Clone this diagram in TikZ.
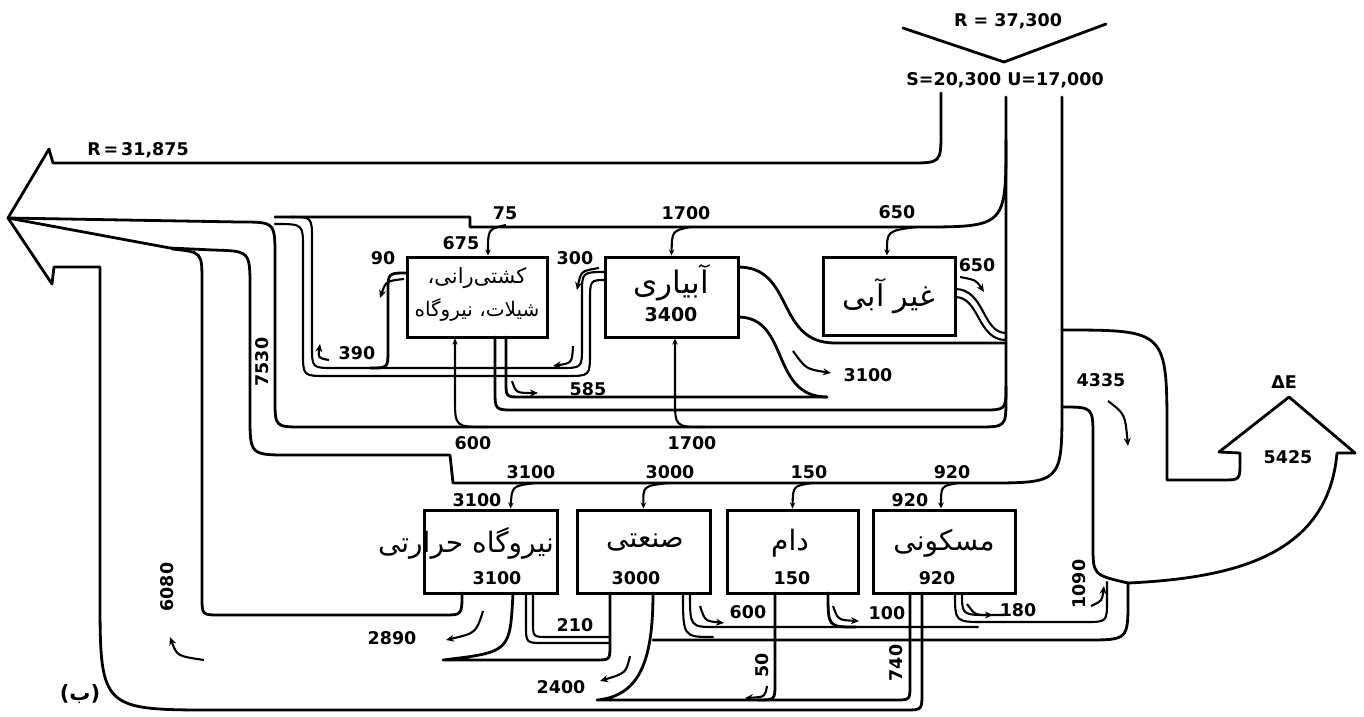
\documentclass[tikz,border=0pt]{standalone}
\usepackage{fontspec}
\setmainfont{DejaVu Sans}
\newfontfamily\farsi[Script=Arabic]{DejaVu Sans}
\TeXXeTstate=1
\usetikzlibrary{arrows.meta}

\tikzset{
  flow/.style={line width=2.8pt, line join=round, line cap=round},
  twin/.style={line width=2.1pt, line cap=round},
  hookarrow/.style={line width=2.1pt, -{Stealth[length=8pt,width=7pt]}},
  feed/.style={line width=2.1pt, -{Stealth[length=6pt,width=5.5pt]}},
  unit/.style={draw, line width=3pt, inner sep=0pt},
  num/.style={font=\bfseries\fontsize{17.5}{19}\selectfont, inner sep=1pt},
  fa/.style={font=\farsi\fontsize{28}{30}\selectfont, inner sep=0pt}
}

\begin{document}
\begin{tikzpicture}[x=1pt,y=-1pt]
  \useasboundingbox (0,0) rectangle (1364,716);

  % Inflow R split into S and U
  \draw[flow] (903,28) -- (1004,62) -- (1106,24);
  \node[num] (rin) at (1008,21) {R = 37,300};
  \node[num] (su) at (1005,80) {S=20,300 U=17,000};
  \node[num] (rout) at (138,150) {R\,=\,31,875};

  % Top boxes
  \node[unit, minimum width=140pt, minimum height=80pt] (nav) at (477,297) {};
  \node[unit, minimum width=133pt, minimum height=80pt] (irr) at (671.5,297) {};
  \node[unit, minimum width=132pt, minimum height=78pt] (nonag) at (889,296) {};
  \node[fa, font=\farsi\fontsize{21}{23}\selectfont] (navA) at (477,278) {\beginR کشتی‌رانی،\endR};
  \node[fa, font=\farsi\fontsize{20}{22}\selectfont] (navB) at (477,310) {\beginR شیلات، نیروگاه\endR};
  \node[fa, font=\farsi\fontsize{31}{33}\selectfont] (irrA) at (671,283) {\beginR آبیاری\endR};
  \node[num, font=\bfseries\fontsize{19}{21}\selectfont] (irrB) at (671,315) {3400};
  \node[fa, font=\farsi\fontsize{30}{32}\selectfont] (nonagA) at (889,296) {\beginR غیر آبی\endR};

  % Bottom boxes
  \foreach \n/\x/\w in {therm/490.5/133, ind/643.5/133, live/792.5/131, res/944/142}
    \node[unit, minimum width=\w pt, minimum height=83pt] (\n) at (\x,551.5) {};
  \node[fa] (thermA) at (466,543) {\beginR نیروگاه حرارتی\endR};
  \node[fa] (indA) at (645,543) {\beginR صنعتی\endR};
  \node[fa] (liveA) at (790,543) {\beginR دام\endR};
  \node[fa] (resA) at (944,543) {\beginR مسکونی\endR};
  \foreach \n/\t/\x in {thermB/3100/497, indB/3000/636, liveB/150/792, resB/920/937}
    \node[num] (\n) at (\x,578) {\t};

  % S stream and big arrow R, outer edge of 6080
  \draw[flow] (941,93) -- (941,131) .. controls (941,163) .. (909,163) -- (53,163) -- (49,149)
    -- (8,218) -- (52,284) -- (54,267) -- (100,267) -- (100,592) .. controls (100,710) .. (218,710)
    -- (905,710) .. controls (922,710) .. (922,693) -- (922,593);
  % U left edge, inner edge of 7530
  \draw[flow] (1006,97) -- (1006,398) .. controls (1006,427) .. (977,427) -- (303,427)
    .. controls (275,427) .. (275,399) -- (275,257) .. controls (275,222) .. (240,222) -- (8,218);
  % U right edge, outer edge of 7530
  \draw[flow] (1062,97) -- (1062,405) .. controls (1062,483) .. (985,483) -- (453,483) -- (450,455)
    -- (290,455) .. controls (250,455) .. (250,415) -- (250,288) .. controls (250,251) .. (213,250)
    -- (170,248) -- (8,218);
  % inner edge of 6080
  \draw[flow] (172,249) .. controls (202,252) .. (202,282) -- (202,597) .. controls (202,615) .. (220,615)
    -- (444,615) .. controls (462,615) .. (462,593);
  % lower edge of S
  \draw[flow] (1006,140) .. controls (1006,227) .. (918,227) -- (470,227) -- (470,217) -- (275,217);

  % Returns 90 and 300
  \draw[twin] (275,224) .. controls (303,224) .. (303,248) -- (303,352) .. controls (303,376) .. (327,376)
    -- (566,376) .. controls (590,376) .. (590,352) -- (590,302) .. controls (590,280) .. (606,280);
  \draw[twin] (290,217) .. controls (312,217) .. (312,240) -- (312,346) .. controls (312,368) .. (334,368)
    -- (560,368) .. controls (582,368) .. (582,346) -- (582,294) .. controls (582,272) .. (606,272);
  \draw[flow] (407,273) .. controls (388,273) .. (388,292) -- (388,350) .. controls (388,368) .. (370,368);

  % Return 585, 3100 and 650 towards 4335
  \draw[flow] (495,337) -- (495,390) .. controls (495,410) .. (515,410) -- (982,410) .. controls (1006,410) .. (1006,386);
  \draw[flow] (506,337) -- (506,382) .. controls (506,397) .. (521,397) -- (827,397);
  \draw[flow] (738,267) .. controls (795,267) and (775,343) .. (835,343) -- (1006,343);
  \draw[flow] (738,317) .. controls (790,317) and (770,397) .. (827,397);
  \draw[twin] (955,289) .. controls (985,289) and (982,333) .. (1006,333);
  \draw[twin] (955,297) .. controls (980,297) and (977,340) .. (1006,340);

  % 4335 and Delta E
  \draw[flow] (1062,330) .. controls (1167,330) .. (1167,435) -- (1167,480) -- (1222,480)
    .. controls (1240,480) .. (1240,462) -- (1240,453) -- (1219,452) -- (1289,397) -- (1355,453)
    -- (1337,453) .. controls (1328,555) and (1235,578) .. (1128,583);
  \draw[flow] (1062,407) .. controls (1093,407) .. (1093,438) -- (1093,545) .. controls (1093,575) .. (1128,583);
  \node[num] (de) at (1284,382) {ΔE};

  % Outflows of the bottom boxes
  \draw[flow] (513,593) .. controls (510,652) .. (443,660) -- (595,660) .. controls (610,660) .. (610,645) -- (610,593);
  \draw[twin] (526,593) -- (526,625) .. controls (526,643) .. (544,643) -- (610,643);
  \draw[twin] (533,593) -- (533,622) .. controls (533,637) .. (548,637) -- (610,637);
  \draw[flow] (653,593) .. controls (653,660) and (640,696) .. (597,700) -- (895,700)
    .. controls (910,700) .. (910,685) -- (910,593);
  \draw[flow] (775,593) -- (775,683) .. controls (775,700) .. (758,700);
  \draw[flow] (653,640) -- (1085,640) .. controls (1128,640) .. (1128,600) -- (1128,583);
  \draw[twin] (683,593) .. controls (683,637) .. (713,637);
  \draw[twin] (690,593) .. controls (690,627) .. (716,627) -- (978,627);
  \draw[flow] (828,593) .. controls (828,627) .. (856,627);
  \draw[twin] (955,593) .. controls (955,622) .. (985,622) -- (1085,622) .. controls (1107,622) .. (1107,600) -- (1107,582);
  \draw[twin] (962,593) .. controls (962,615) .. (990,615) -- (1005,615);

  % Withdrawals into the boxes
  \draw[feed] (506,225) .. controls (488,229) .. ([xshift=11pt]nav.north);
  \draw[feed] (690,227) .. controls (672,231) .. (irr.north);
  \draw[feed] (916,227) .. controls (887,231) .. ([xshift=-2pt]nonag.north);
  \draw[feed] (487,427) .. controls (455,427) .. (455,398) -- ([xshift=-22pt]nav.south);
  \draw[feed] (705,427) .. controls (675,427) .. (675,398) -- ([xshift=3.5pt]irr.south);
  \draw[feed] (535,483) .. controls (512,486) .. ([xshift=20pt]therm.north);
  \draw[feed] (668,483) .. controls (643,486) .. (ind.north);
  \draw[feed] (812,483) .. controls (793,486) .. (live.north);
  \draw[feed] (958,483) .. controls (941,486) .. ([xshift=-3pt]res.north);

  % Small flow arrows
  \foreach \ax/\ay/\cx/\cy/\bx/\by in {404/279/386/281/380/298, 599/268/581/271/577/290,
      329/360/318/358/320/344, 573/346/572/363/553/366, 512/381/516/393/538/393,
      793/351/806/369/831/373, 960/277/976/280/984/292, 1108/401/1125/414/1128/446,
      204/660/177/656/170/637, 483/611/476/633/446/640, 630/656/626/673/600/681,
      700/606/705/621/724/623, 833/606/838/620/859/621, 967/604/975/615/993/615,
      767/686/765/697/745/698, 1091/606/1102/601/1104/586}
    \draw[hookarrow] (\ax,\ay) .. controls (\cx,\cy) .. (\bx,\by);

  % Flow values
  \foreach \t/\x/\y [count=\i] in {75/505/213, 675/461/243, 1700/686/213, 650/897/212,
      90/383/258, 300/575/258, 650/977/265, 390/357/353, 585/588/389, 3100/868/375,
      600/473/443, 1700/692/443, 4335/1101/380, 5425/1288/457, 3100/531/472,
      3000/670/472, 150/809/472, 920/952/472, 3100/477/500, 920/910/500,
      180/1018/610, 100/887/613, 600/748/612, 210/575/625, 2890/392/638, 2400/561/687}
    \node[num] (val\i) at (\x,\y) {\t};
  \foreach \t/\x/\y [count=\i] in {7530/262/362, 6080/167/587, 1090/1079/584, 50/762/665, 740/896/663}
    \node[num, rotate=90] (vert\i) at (\x,\y) {\t};

  \node[num, font=\bfseries\fontsize{21}{23}\selectfont] (fig) at (80,694) {({\farsi ب})};
\end{tikzpicture}
\end{document}
